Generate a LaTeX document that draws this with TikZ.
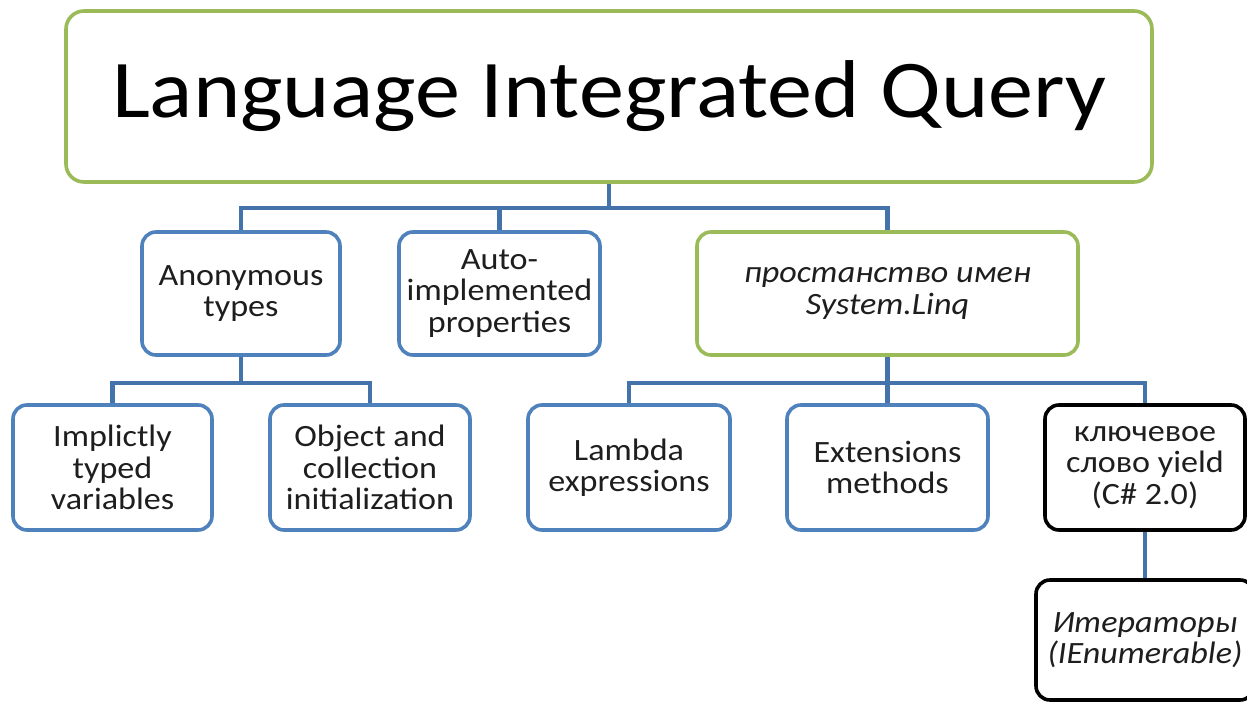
\documentclass[tikz,border=0pt]{standalone}
\usepackage{fontspec}
\setmainfont{Carlito}[FakeStretch=1.1]
\definecolor{bxblue}{RGB}{79,129,189}
\definecolor{lnblue}{RGB}{68,114,170}
\definecolor{bxgreen}{RGB}{155,187,89}
\definecolor{txt}{RGB}{30,30,30}
\tikzset{
  box/.style={draw=bxblue, line width=3.6pt, rounded corners=14pt, fill=white,
    align=center, text=txt, inner sep=2pt,
    font=\fontsize{31}{31.5}\selectfont},
  gbox/.style={box, draw=bxgreen},
  kbox/.style={box, draw=black},
  conn/.style={draw=lnblue, line width=4.2pt}
}
\begin{document}
\begin{tikzpicture}[x=1pt,y=-1pt]
\useasboundingbox (0,0) rectangle (1247,703);
\clip (0,0) rectangle (1247,703);
\node[gbox, rounded corners=18pt, minimum width=1086pt, minimum height=171pt,
  font=\fontsize{82}{82}\selectfont, text=black] (top) at (609,96.5) {\raisebox{-4pt}{Language Integrated Query}};
\node[box, minimum width=198pt, minimum height=123pt] (anon) at (241,293.5) {Anonymous\\types};
\node[box, minimum width=201pt, minimum height=123pt] (auto) at (499.5,293.5) {Auto-\\implemented\\properties};
\node[gbox, minimum width=381pt, minimum height=123pt, font=\fontsize{31}{31.5}\selectfont\itshape] (linq) at (887.5,293.5) {простанство имен\\System.Linq};
\node[box, minimum width=199pt, minimum height=125pt] (impl) at (112.5,467.5) {Implictly\\typed\\variables};
\node[box, minimum width=200pt, minimum height=125pt] (obj) at (370,467.5) {Object and\\collection\\initialization};
\node[box, minimum width=202pt, minimum height=125pt] (lam) at (629,467.5) {Lambda\\expressions};
\node[box, minimum width=201pt, minimum height=125pt] (ext) at (887.5,467.5) {Extensions\\methods};
\node[kbox, minimum width=200pt, minimum height=125pt] (yield) at (1145,467.5) {ключевое\\слово yield\\(C\# 2.0)};
\node[kbox, minimum width=218pt, minimum height=120pt, font=\fontsize{31}{31.5}\selectfont\itshape] (iter) at (1145,640) {Итераторы\\(IEnumerable)};
\draw[conn] (top.south) -- ++(0,24) -| (anon.north);
\draw[conn] (top.south) -- ++(0,24) -| (auto.north);
\draw[conn] (top.south) -- ++(0,24) -| (linq.north);
\draw[conn] (anon.south) -- ++(0,26.5) -| (impl.north);
\draw[conn] (anon.south) -- ++(0,26.5) -| (obj.north);
\draw[conn] (linq.south) -- ++(0,26.5) -| (lam.north);
\draw[conn] (linq.south) -- ++(0,26.5) -| (ext.north);
\draw[conn] (linq.south) -- ++(0,26.5) -| (yield.north);
\draw[conn] (yield.south) -- (iter.north);
\end{tikzpicture}
\end{document}
